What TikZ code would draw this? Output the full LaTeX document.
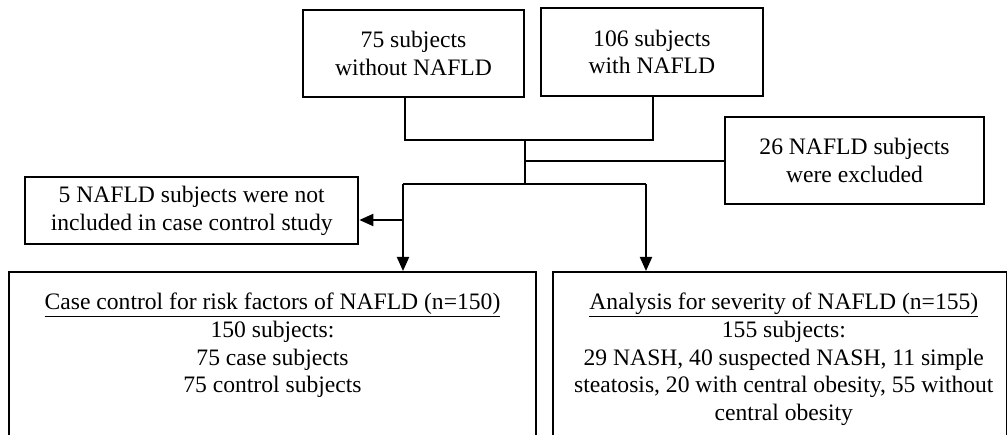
\documentclass[tikz,border=0pt]{standalone}
\usepackage{fontspec}
\setmainfont{Liberation Serif}
\usetikzlibrary{positioning,arrows.meta}

\begin{document}
\begin{tikzpicture}[
    x=1pt, y=-1pt,
    font=\fontsize{23.6}{27.6}\selectfont,
    box/.style={rectangle, draw=black, line width=2pt, inner sep=0pt, align=center},
    bigbox/.style={rectangle, draw=black, line width=2pt, minimum height=220pt, anchor=north west},
    boxtext/.style={align=center, inner sep=0pt},
    link/.style={line width=2pt},
    arr/.style={line width=2pt, -{Triangle[width=12pt,length=14pt]}}
]
\useasboundingbox (0,0) rectangle (1007,435);
\clip (0,0) rectangle (1007,435);

% Starting groups
\node[box, minimum width=221.6pt, minimum height=87.3pt] (without) at (413.5,53.7) {75 subjects\\without NAFLD};
\node[box, minimum width=221.7pt, minimum height=87.4pt] (withnafld) at (651.9,52) {106 subjects\\with NAFLD};

% Exclusions
\node[box, minimum width=259pt, minimum height=86.7pt] (excluded) at (854.5,160.7) {26 NAFLD subjects\\were excluded};
\node[box, minimum width=333.3pt, minimum height=66.7pt] (notincl) at (191.7,210.7) {5 NAFLD subjects were not\\included in case control study};

% Study arms
\node[bigbox, minimum width=527pt] (casebox) at (8,271) {};
\node[boxtext, below=22pt of casebox.north] (casetext) {\underline{Case control for risk factors of NAFLD (n=150)}\\150 subjects:\\75 case subjects\\75 control subjects};
\node[bigbox, minimum width=454.3pt] (sevbox) at (551.7,271) {};
\node[boxtext, below=22pt of sevbox.north, xshift=4pt] (sevtext) {\underline{Analysis for severity of NAFLD (n=155)}\\155 subjects:\\29 NASH, 40 suspected NASH, 11 simple\\steatosis, 20 with central obesity, 55 without\\central obesity};

% Junctions
\coordinate (jl) at (405,140);
\coordinate (jr) at (653,140);
\coordinate (jm) at (525,140);
\coordinate (split) at (525,184);
\coordinate (sl) at (403,184);
\coordinate (sr) at (646,184);
\coordinate (tap) at (403,220);

% Connectors
\draw[link] (jl |- without.south) -- (jl) -- (jr) -- (jr |- withnafld.south);
\draw[link] (jm) -- (split);
\draw[link] (jm |- excluded.west) -- (excluded.west);
\draw[link] (sl) -- (sr);
\draw[arr] (sl) -- (sl |- casebox.north);
\draw[arr] (sr) -- (sr |- sevbox.north);
\draw[arr] (tap) -- (tap -| notincl.east);

\end{tikzpicture}
\end{document}
